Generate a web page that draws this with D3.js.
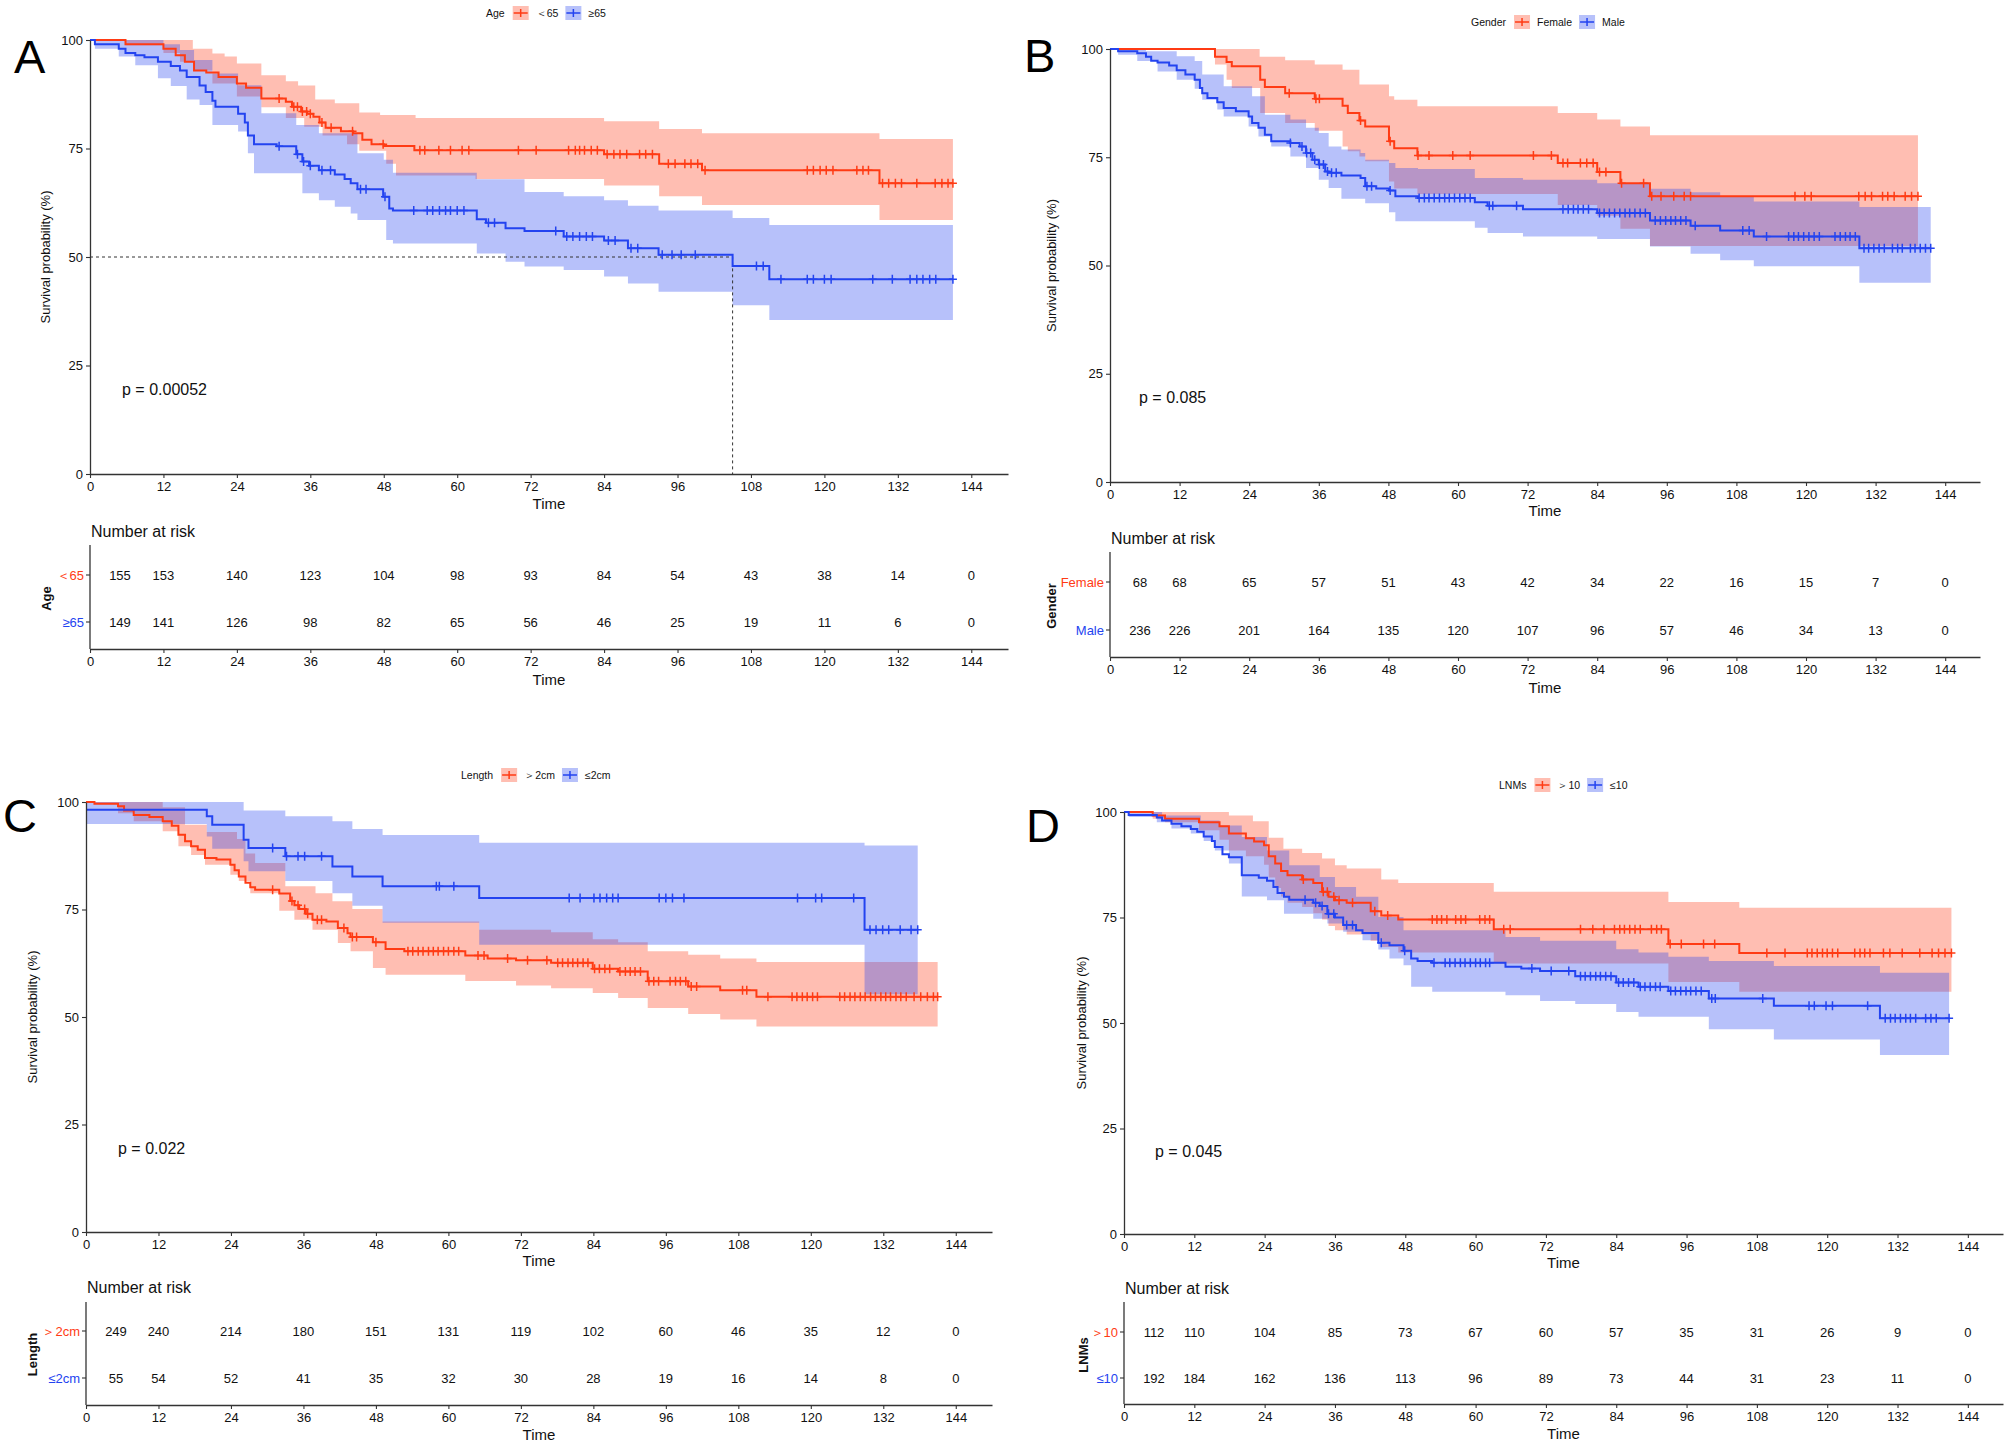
<!DOCTYPE html>
<html><head><meta charset="utf-8">
<script src="https://cdn.jsdelivr.net/npm/d3@7"></script>
<style>
html,body{margin:0;padding:0;background:#fff;}
svg{display:block;font-family:"Liberation Sans",Arial,Helvetica,sans-serif;}
</style></head><body>
<svg id="chart" width="2007" height="1443"></svg>
<script>
// ---------- shared ----------
const timeTicks = [0,12,24,36,48,60,72,84,96,108,120,132,144];
const yTicks = [0,25,50,75,100];
const groupColors = ["#FF3B14","#2343F0"];

// ---------- Panel A : Age ----------
const ageGroups = ["＜65","≥65"];
const ageLowSurv = [[0,100],[5.8,99],[12,98],[14,96.5],[15.5,95],[17,93],[19,92.5],[21,91.5],[24,90],[25.5,89],[28,86.5],[32,85.8],[33,84.6],[34.5,83.5],[35.5,83],[36.5,82.3],[37.5,81],[38.5,79.8],[41,79],[43,78.5],[44.5,77],[46,76],[48,75.6],[53,74.6],[84,73.7],[93,71.5],[100,70],[129,67]];
const ageLowUpper = [[0,100],[14,100],[16.8,98],[20,96.9],[22,96.2],[24,94.6],[28,91.9],[32,90.5],[34,89.5],[36.8,86.3],[40,85.4],[44,83.3],[47.4,82.7],[53.2,82],[84,81.3],[93,79.5],[100,78.5],[129,77.2]];
const ageLowLower = [[0,100],[5.8,98.8],[12,97],[14.7,95],[17,93],[20,90],[24,87],[28,84.5],[32,82],[35,80],[38,78],[42,76],[44,74.5],[48.4,71.5],[50,68.8],[63,68],[84,66.5],[93,64],[100,62],[129,58.5]];
const ageLowCensor = [30.9,33.3,33.9,34.7,35.4,36,37.9,39.4,42.9,47.9,53.9,54.7,57,58.9,60.8,61.9,70,72.9,78.2,79.3,80,80.8,81.9,82.9,84.5,85.6,86.6,87.7,89.8,90.8,91.9,94.5,95.6,97.2,98.2,99.3,100.5,117.2,118.2,119.3,120.3,121.4,125.3,126.3,127.2,129.5,130.5,131.6,132.6,135.1,138.1,139.2,140.2,141];
const ageHighSurv = [[0,100],[0.8,99],[4.7,98],[5.8,97],[7.4,96.5],[8.9,96],[11.1,95],[13.2,94],[14.7,93],[15.8,91.5],[17.9,89.5],[18.9,88],[20,86],[20.5,84.6],[24.2,83],[25.3,81],[25.8,78],[26.8,76],[30.5,75.5],[33.7,73.7],[34.7,72],[35.8,71],[37.4,70],[40,69],[41.6,68],[42.6,67],[43.7,65.6],[47.9,63.9],[48.9,61.2],[49.5,60.7],[63.2,58.7],[64.7,57.9],[67.9,56.6],[71,56],[77.4,54.7],[84,53.8],[87.9,52],[92.9,50.5],[105,47.9],[111,44.9]];
const ageHighUpper = [[0,100],[5.8,100],[12,99],[14.7,97.7],[17,95.4],[20,92.3],[24.2,89.6],[28,83.1],[33.7,80.4],[37.4,78.5],[43.7,73.9],[48,72.4],[49.5,69.4],[63.2,67.9],[71,65],[77.4,64],[84,63.1],[87.9,61.8],[92.9,60.7],[105,59],[111,57.4]];
const ageHighLower = [[0,100],[0.8,98],[4.7,96.2],[7.4,94.2],[11.1,91.2],[13.2,89.4],[15.8,86.3],[17.9,85],[20,80.4],[24.2,78.9],[25.8,73.9],[26.8,69.3],[34.7,64.7],[37.4,63.1],[40,61.6],[42.6,60],[43.7,58.5],[48.4,53.9],[49.5,53.1],[63.2,50.8],[67.9,48.9],[71,47.8],[77.4,47],[84,45.5],[87.9,43.9],[92.9,42],[105,38.9],[111,35.5]];
const ageHighCensor = [30.9,33.9,34.9,36,37.9,39.3,44.2,45.1,48.2,52.9,55.1,56,57.1,58.1,58.9,60,61.1,65.1,66.1,76.1,77.9,78.9,80,81.1,82.1,84.7,85.8,88.4,89.5,93.5,95.1,96.6,98.9,108.9,110,112.9,117.2,118.2,120,121.1,127.9,131.1,134,135.1,136.1,137.2,138.2,141];
const ageRisk = [[155,153,140,123,104,98,93,84,54,43,38,14,0],[149,141,126,98,82,65,56,46,25,19,11,6,0]];
const ageMedian = 105;

// ---------- Panel B : Gender ----------
const genderGroups = ["Female","Male"];
const genderFSurv = [[0,100],[18.1,98.2],[20.1,97],[21,96],[25.9,92.9],[26.7,91.2],[30.2,89.8],[35.3,88.5],[40.1,86.9],[41,85.2],[43,83.5],[44,82.1],[48.1,78.7],[49,77.1],[53,75.4],[77.2,73.7],[84,71.6],[88,69],[93.1,66]];
const genderFUpper = [[0,100],[25.8,98.2],[30.2,97.4],[35.3,96.4],[40.1,95.2],[43,91.8],[48.1,89.1],[49,88.3],[53,86.8],[77.2,85.2],[84,83.7],[88,82.1],[93.1,80.1]];
const genderFLower = [[0,100],[18.1,96.4],[20.1,92.9],[21,91],[25.9,85.2],[30.2,82.9],[35.3,81.1],[40.1,77.5],[41,76.4],[43,75.2],[44,74.1],[48.1,69.4],[49,67.8],[53,66.5],[77.2,64],[84,61.5],[88,58.5],[93.1,54.5]];
const genderFCensor = [30.9,35.5,36.1,43.2,48.3,53.1,55,59.1,62.1,73,76.1,78.1,78.9,81.1,82.2,83.3,84.4,85.5,88.2,92,93.4,95,97.2,99,100.1,118.1,119.8,120.9,129.1,130.2,131.3,133.2,134.1,135.2,137.1,138.2,139.3];
const genderMSurv = [[0,100],[1.4,99.5],[4.7,99],[6.2,98.2],[7.1,97.3],[8.2,96.9],[10.2,96.2],[11.5,95.1],[13,94.1],[14.6,92.9],[15.5,91],[15.9,89.8],[16.8,88.7],[18.5,87.7],[19.6,86.4],[21.7,85.6],[23.9,84.4],[24.5,82.9],[25.6,81.8],[26.7,80.2],[27.8,78.7],[31.1,78.3],[32.7,77.5],[33.8,76],[34.9,74.4],[36,73.3],[37.1,71.7],[37.7,71.4],[39.9,70.8],[43.2,70.2],[44,68.3],[45.9,67.8],[48.1,67.3],[49.2,66],[53.1,65.6],[62.9,64.6],[65.1,63.8],[71.2,63],[84,62.1],[93.1,60.4],[100.1,59.2],[105.2,58.1],[111,56.7],[129.2,54]];
const genderMUpper = [[0,100],[6.2,99.5],[11.5,98.3],[14.6,97.2],[15.9,94.1],[19.6,91.4],[24.5,89.1],[26.7,84.8],[31.1,83.7],[33.8,81.8],[36,80.6],[37.7,77.5],[39.9,76.8],[43.2,76],[44,74.4],[48.1,73.7],[49.2,72.5],[53.1,72.3],[62.9,70.2],[71.2,69.8],[84,69],[93.1,67.7],[100.1,66.9],[105.2,65.8],[111,64.8],[129.2,63.5]];
const genderMLower = [[0,100],[1.4,98.7],[4.7,97.2],[8.2,94.8],[11.5,92.9],[14.6,90.8],[15.9,88.3],[18.5,86],[19.6,84.4],[23.9,82.1],[25.6,79.8],[27.8,77.5],[31.1,75.2],[33.8,72.5],[36,69.8],[37.7,67.9],[39.9,65.4],[44,64.4],[48.1,62.3],[49.2,60.2],[62.9,58.7],[65.1,57.5],[71.2,56.7],[84,56.1],[93.1,54.4],[100.1,52.7],[105.2,51.2],[111,49.8],[129.2,46]];
const genderMCensor = [31.1,33.1,33.9,34.6,35.3,36.1,36.8,37.5,38.2,39,44.3,45.1,48.3,53.3,54.2,55,55.9,56.8,57.7,58.5,59.4,60.3,61.2,62.1,65.4,66,70.1,78.1,79,79.9,80.7,81.6,82.5,84.4,85.2,86.1,87,87.9,88.8,89.6,90.5,91.4,92.3,94,94.9,95.8,96.7,97.5,98.4,99.3,100.9,109.1,110.2,113.2,117,117.9,118.7,119.6,120.5,121.4,122.3,125,125.9,126.8,127.6,128.5,130,130.8,131.7,132.6,133.5,134.9,135.8,136.6,138,138.8,139.7,140.6,141.5];
const genderRisk = [[68,68,65,57,51,43,42,34,22,16,15,7,0],[236,226,201,164,135,120,107,96,57,46,34,13,0]];

// ---------- Panel C : Length ----------
const lengthGroups = ["＞2cm","≤2cm"];
const lengthBigSurv = [[0,100],[1.4,99.6],[5.3,99],[6.3,98],[7.9,97],[10.5,96.5],[12.7,95.5],[14.2,94.5],[15.3,92.4],[16.4,90.9],[17.4,89.7],[18.5,88.9],[19.7,87],[21.6,86.6],[23.9,85.4],[24.6,84.1],[25.3,82.7],[26.4,81.2],[27.2,80.2],[28,79.6],[32,78.7],[33.8,77],[34.5,76],[35.3,75.1],[36.4,74],[37.5,72.6],[39.8,72.2],[41.7,70.7],[43.3,69.5],[43.8,68.6],[47.5,67.4],[49.6,65.8],[52.7,65.3],[62.8,64.3],[66.5,63.6],[71.2,63.2],[77,62.6],[83.9,61.2],[88.1,60.6],[93,58.3],[99.7,57.1],[105,56.2],[111,54.7]];
const lengthBigUpper = [[0,100],[12.7,98.8],[16.4,94.7],[20,93],[25,91.4],[26.4,88],[28,85.8],[33,80.4],[38,78.8],[40.8,76.9],[44.1,75.1],[49.1,72.2],[65.1,70.3],[77,69.7],[83.9,68.1],[88.1,67.4],[93,65.3],[99.7,64.5],[105,63.6],[111,62.8]];
const lengthBigLower = [[0,100],[1.4,99.5],[5.3,97.4],[7.9,95.5],[12.7,93.2],[15.3,89.7],[17.4,87.7],[19.7,85.4],[23.9,83.1],[25.3,81.6],[27.2,78.8],[32,74.7],[34.5,72.6],[37.5,70.3],[41.7,67.2],[43.8,65.3],[47.5,61.4],[49.6,59.8],[62.8,58.4],[71.2,57.3],[77,56.7],[83.9,55.6],[88.1,54.4],[93,52.1],[99.7,50.7],[105,49.4],[111,47.8]];
const lengthBigCensor = [30.9,34.1,35.1,36.2,36.7,38.3,39,42.7,44.1,44.8,48,53.3,54.1,55,55.8,56.7,57.5,58.3,59.2,60,60.9,61.7,64.9,65.9,69.8,73.1,76.3,78.1,78.9,79.8,80.6,81.4,82.3,83.1,84.2,85,85.9,86.7,88.4,89.3,90.1,90.9,91.8,93.2,94,94.8,96.7,97.6,98.4,99.3,100.2,101.1,108.7,109.4,112.9,116.9,117.7,118.6,119.4,120.3,121.1,124.8,125.6,126.5,127.3,128.2,129,129.9,130.7,131.6,132.4,133.2,134.1,134.9,135.8,137.1,138.2,139.3,140.3,141];
const lengthSmallSurv = [[0,98.2],[20,96.7],[20.9,94.7],[26.1,91.2],[26.9,89.3],[33,87.4],[40.8,85],[44.1,82.7],[49.1,80.4],[65.1,77.7],[128.9,70.3]];
const lengthSmallUpper = [[0,100],[26.1,98],[33,96.7],[40.8,95.5],[44.1,93.7],[49.1,92.3],[65.1,90.5],[128.9,89.9]];
const lengthSmallLower = [[0,94.9],[20,92],[20.9,89.1],[26.1,86.2],[26.9,83.9],[33,81.6],[40.8,78.8],[44.1,75.9],[49.1,71.9],[65.1,66.8],[128.9,55.3]];
const lengthSmallCensor = [30.9,33.2,35.1,36.2,39,58,58.5,60.9,80,81.8,84.1,85.1,86.2,87.2,88.1,94.9,96,97.1,99,117.8,120.8,121.8,127.1,129.8,130.8,131.9,132.9,134.8,136.6,137.7];
const lengthRisk = [[249,240,214,180,151,131,119,102,60,46,35,12,0],[55,54,52,41,35,32,30,28,19,16,14,8,0]];

// ---------- Panel D : LNMs ----------
const lnmGroups = ["＞10","≤10"];
const lnmHighSurv = [[0,100],[4.9,99.2],[7,98.4],[12.8,97.6],[16.3,96.6],[17.9,94.9],[20.8,93.8],[22.2,93],[23.9,92.1],[24.7,89.5],[25.8,87.8],[26.8,86],[27.9,85],[30.4,84],[32.3,83.2],[33.8,81.1],[34.9,79.9],[36,79.1],[38,78.5],[42.1,76.5],[43.9,75.5],[46.8,74.5],[63.1,72.2],[92.9,68.7],[105,66.6]];
const lnmHighUpper = [[0,100],[17.9,99.2],[22,97.8],[24.7,93.9],[27.2,91.3],[30.4,90.3],[33.8,89],[36,87.4],[38,86.6],[43.9,84],[46.8,83.2],[63.1,81.1],[92.9,78.7],[105,77.3]];
const lnmHighLower = [[0,100],[4.9,98.4],[7,97.6],[12.8,95.7],[16.3,93.4],[17.9,90.9],[20.8,89.5],[23.9,87.5],[24.7,84.5],[25.8,82],[26.8,80],[27.9,78.5],[30.4,77.5],[32.3,76],[33.8,74.5],[34.9,73],[36,72],[38,71],[42.1,69.5],[43.9,68],[46.8,66.7],[63.1,64.1],[92.9,59.7],[105,57.4]];
const lnmHighCensor = [30.6,34,34.7,35.8,36.7,39,42.8,45,52.6,53.4,54.2,55.1,56.6,57.5,58.3,60.7,61.6,62.4,64.8,65.9,77.9,80,81.9,83.7,84.6,85.4,86.3,87.2,88.1,90,90.9,91.7,93.2,95.1,98.9,100.8,109.7,112.8,116.6,117.4,118.3,119.2,120,120.9,121.8,124.7,125.6,126.4,127.3,129.6,130.7,132.8,135.8,137.9,139,140.1,141.2];
const lnmLowSurv = [[0,100],[0.8,99.3],[5.6,98.7],[6.5,98],[8.1,97.2],[9.8,96.6],[11.4,96],[12.5,95.3],[13.6,94.2],[15,93.1],[15.5,91.7],[16.8,90],[17.9,89.3],[20.1,85],[23,84.4],[24.4,83.7],[25.5,82.2],[26.2,80.8],[27.3,79.9],[28.2,79.2],[32.3,78.5],[33.4,77.7],[34.7,75.9],[36,75],[37.4,73.2],[39.6,72],[40.7,71.3],[43.4,69],[45.3,68.4],[47.7,67.1],[49,65.3],[50.1,64.7],[52.6,64.3],[65.1,63.3],[67.8,62.9],[71,62.3],[77,61.1],[84,59.6],[87.8,58.6],[92.9,57.6],[99.8,55.8],[110.9,54.1],[129,51.1]];
const lnmLowUpper = [[0,100],[6.5,99.2],[13.1,98],[16.3,96.8],[20.1,94.1],[24.4,90.9],[28.2,87.4],[33.4,84.6],[36,82.2],[39.6,79.9],[43.4,75.1],[47.7,72],[65.1,70.4],[71,69.5],[84,67.5],[87.8,66.7],[92.9,65.7],[99.8,64.7],[110.9,63.5],[129,61.9]];
const lnmLowLower = [[0,100],[0.8,98.8],[5.6,97.6],[8.1,96.1],[11.4,94.9],[13.6,93.1],[15.5,90.9],[17.9,87.8],[20.1,80],[24.4,79.1],[27.3,75.9],[32.3,74.7],[34.7,73.6],[37.4,71.6],[40.7,69.6],[43.4,67.4],[45.3,65.3],[47.7,63.7],[49,58.6],[52.6,57.4],[65.1,56.6],[71,55.2],[77,54.5],[84,52.6],[87.8,51.5],[99.8,48.5],[110.9,46.1],[129,42.4]];
const lnmLowCensor = [30.9,32.7,33.8,34.9,35.8,38,39,43.9,47.9,52.9,54.8,55.6,56.5,57.4,58.2,59.1,60,60.8,61.7,62.4,69.6,72.9,75.9,77.9,78.7,79.6,80.5,81.3,82.2,83.1,84.4,85.2,86.1,87,88.1,88.9,89.8,90.7,91.5,93.3,94.1,95,95.9,96.7,97.6,98.5,100.3,100.9,109,116.9,117.8,119.8,120.9,126.9,129.9,130.8,131.6,132.5,133.4,134.2,135.1,136.8,137.7,138.6,140.8];
const lnmRisk = [[112,110,104,85,73,67,60,57,35,31,26,9,0],[192,184,162,136,113,96,89,73,44,31,23,11,0]];

// ---------- panel definitions ----------
const panels = [
  {letter:"A", title:"Age", groups:ageGroups, p:"p = 0.00052", median:ageMedian, risk:ageRisk,
   curves:[{surv:ageLowSurv,upper:ageLowUpper,lower:ageLowLower,censor:ageLowCensor},
           {surv:ageHighSurv,upper:ageHighUpper,lower:ageHighLower,censor:ageHighCensor}],
   L:{x0:90,x1:1008,y0:474,y1:40,legX:486,legY:13,letX:14,letY:73,ylabX:45,pX:122,pY:389,timeY:503,
      titleY:531,tTop:545,rows:[575,622],tAxis:649,tTime:679,tTitleX:46}},
  {letter:"B", title:"Gender", groups:genderGroups, p:"p = 0.085", median:null, risk:genderRisk,
   curves:[{surv:genderFSurv,upper:genderFUpper,lower:genderFLower,censor:genderFCensor},
           {surv:genderMSurv,upper:genderMUpper,lower:genderMLower,censor:genderMCensor}],
   L:{x0:1110,x1:1980,y0:482,y1:49,legX:1471,legY:22,letX:1024,letY:72,ylabX:1051,pX:1139,pY:397,timeY:510,
      titleY:538,tTop:552,rows:[582,630],tAxis:657,tTime:687,tTitleX:1051}},
  {letter:"C", title:"Length", groups:lengthGroups, p:"p = 0.022", median:null, risk:lengthRisk,
   curves:[{surv:lengthBigSurv,upper:lengthBigUpper,lower:lengthBigLower,censor:lengthBigCensor},
           {surv:lengthSmallSurv,upper:lengthSmallUpper,lower:lengthSmallLower,censor:lengthSmallCensor}],
   L:{x0:86,x1:992,y0:1232,y1:802,legX:461,legY:775,letX:3,letY:832,ylabX:32,pX:118,pY:1148,timeY:1260,
      titleY:1287,tTop:1302,rows:[1331,1378],tAxis:1405,tTime:1434,tTitleX:32}},
  {letter:"D", title:"LNMs", groups:lnmGroups, p:"p = 0.045", median:null, risk:lnmRisk,
   curves:[{surv:lnmHighSurv,upper:lnmHighUpper,lower:lnmHighLower,censor:lnmHighCensor},
           {surv:lnmLowSurv,upper:lnmLowUpper,lower:lnmLowLower,censor:lnmLowCensor}],
   L:{x0:1124,x1:2003,y0:1234,y1:812,legX:1499,legY:785,letX:1026,letY:842,ylabX:1081,pX:1155,pY:1151,timeY:1262,
      titleY:1288,tTop:1302,rows:[1332,1378],tAxis:1404,tTime:1433,tTitleX:1083}}
];

function stepAt(arr, t){
  let v = arr[0][1];
  for (const p of arr){ if (p[0] <= t) v = p[1]; else break; }
  return v;
}
function styleAxis(sel){
  sel.attr("font-family",null).attr("font-size",null);
  sel.select(".domain").attr("stroke","#333").attr("stroke-width",1.3);
  sel.selectAll(".tick line").attr("stroke","#333").attr("stroke-width",1.1);
  sel.selectAll(".tick text").attr("fill","#111").style("font-size","13px");
}

const svg = d3.select("#chart");

panels.forEach(P => {
  const L = P.L;
  const g = svg.append("g");
  const x = d3.scaleLinear().domain([0,150]).range([L.x0, L.x1]);
  const y = d3.scaleLinear().domain([0,100]).range([L.y0, L.y1]);

  // confidence bands
  P.curves.forEach((c,i) => {
    const end = d3.max(c.censor);
    const ts = Array.from(new Set([...c.upper.map(d=>d[0]), ...c.lower.map(d=>d[0]), end]))
      .filter(t => t <= end).sort((a,b)=>a-b);
    const data = ts.map(t => ({t, lo:stepAt(c.lower,t), hi:stepAt(c.upper,t)}));
    g.append("path").datum(data)
      .attr("d", d3.area().curve(d3.curveStepAfter).x(d=>x(d.t)).y0(d=>y(d.lo)).y1(d=>y(d.hi)))
      .attr("fill", groupColors[i]).attr("fill-opacity", 0.33);
  });

  // median line
  if (P.median != null){
    g.append("path")
      .attr("d", `M${x(0)},${y(50)}H${x(P.median)}V${y(0)}`)
      .attr("fill","none").attr("stroke","#333").attr("stroke-width",1).attr("stroke-dasharray","3,3");
  }

  // curves and censor marks
  P.curves.forEach((c,i) => {
    const end = d3.max(c.censor);
    const pts = c.surv.concat([[end, c.surv[c.surv.length-1][1]]]);
    g.append("path").datum(pts)
      .attr("d", d3.line().curve(d3.curveStepAfter).x(d=>x(d[0])).y(d=>y(d[1])))
      .attr("fill","none").attr("stroke",groupColors[i]).attr("stroke-width",2);
    g.append("g").selectAll("path").data(c.censor).join("path")
      .attr("d", t => { const cx = x(t), cy = y(stepAt(c.surv,t)); return `M${cx-4},${cy}h8M${cx},${cy-4.5}v9`; })
      .attr("stroke",groupColors[i]).attr("stroke-width",1.5).attr("fill","none");
  });

  // axes
  const xa = g.append("g").attr("transform",`translate(0,${L.y0})`)
    .call(d3.axisBottom(x).tickValues(timeTicks).tickSize(4).tickSizeOuter(0).tickPadding(4));
  styleAxis(xa);
  const ya = g.append("g").attr("transform",`translate(${L.x0},0)`)
    .call(d3.axisLeft(y).tickValues(yTicks).tickSize(4).tickSizeOuter(0).tickPadding(3));
  styleAxis(ya);

  g.append("text").attr("x",(L.x0+L.x1)/2).attr("y",L.timeY).attr("text-anchor","middle")
    .attr("dominant-baseline","central").style("font-size","15px").attr("fill","#111").text("Time");
  g.append("text").attr("transform",`translate(${L.ylabX},${(L.y0+L.y1)/2}) rotate(-90)`)
    .attr("text-anchor","middle").attr("dominant-baseline","central").style("font-size","13px").attr("fill","#111")
    .text("Survival probability (%)");
  g.append("text").attr("x",L.pX).attr("y",L.pY).attr("dominant-baseline","central")
    .style("font-size","16px").attr("fill","#111").text(P.p);
  g.append("text").attr("x",L.letX).attr("y",L.letY).style("font-size","47px").attr("fill","#000").text(P.letter);

  // legend
  const lg = g.append("g");
  let cx = L.legX;
  const tt = lg.append("text").attr("x",cx).attr("y",L.legY).attr("dominant-baseline","central")
    .style("font-size","10.5px").attr("fill","#111").text(P.title);
  cx += tt.node().getComputedTextLength() + 8;
  P.groups.forEach((grp,i) => {
    lg.append("rect").attr("x",cx).attr("y",L.legY-7).attr("width",16).attr("height",14)
      .attr("fill",groupColors[i]).attr("fill-opacity",0.33);
    lg.append("path").attr("d",`M${cx+1},${L.legY}h14M${cx+8},${L.legY-4}v8`)
      .attr("stroke",groupColors[i]).attr("stroke-width",1.5);
    cx += 16 + 7;
    const lt = lg.append("text").attr("x",cx).attr("y",L.legY).attr("dominant-baseline","central")
      .style("font-size","10.5px").attr("fill","#111").text(grp);
    cx += lt.node().getComputedTextLength() + 7;
  });

  // risk table
  g.append("text").attr("x",L.x0+1).attr("y",L.titleY).attr("dominant-baseline","central")
    .style("font-size","16px").attr("fill","#111").text("Number at risk");
  g.append("line").attr("x1",L.x0).attr("x2",L.x0).attr("y1",L.tTop).attr("y2",L.tAxis)
    .attr("stroke","#333").attr("stroke-width",1.3);
  P.groups.forEach((grp,i) => {
    const ry = L.rows[i];
    g.append("line").attr("x1",L.x0-4).attr("x2",L.x0).attr("y1",ry).attr("y2",ry).attr("stroke","#333").attr("stroke-width",1.1);
    g.append("text").attr("x",L.x0-6).attr("y",ry).attr("text-anchor","end").attr("dominant-baseline","central")
      .style("font-size","13px").attr("fill",groupColors[i]).text(grp);
    g.append("g").selectAll("text").data(P.risk[i]).join("text")
      .attr("x",(d,j) => x(timeTicks[j]) + (j === 0 ? 30 : 0)).attr("y",ry)
      .attr("text-anchor","middle").attr("dominant-baseline","central")
      .style("font-size","13px").attr("fill","#111").text(d => d);
  });
  const ta = g.append("g").attr("transform",`translate(0,${L.tAxis})`)
    .call(d3.axisBottom(x).tickValues(timeTicks).tickSize(4).tickSizeOuter(0).tickPadding(4));
  styleAxis(ta);
  g.append("text").attr("x",(L.x0+L.x1)/2).attr("y",L.tTime).attr("text-anchor","middle")
    .attr("dominant-baseline","central").style("font-size","15px").attr("fill","#111").text("Time");
  g.append("text").attr("transform",`translate(${L.tTitleX},${(L.rows[0]+L.rows[1])/2}) rotate(-90)`)
    .attr("text-anchor","middle").attr("dominant-baseline","central")
    .style("font-size","13px").style("font-weight","bold").attr("fill","#111").text(P.title);
});
</script>
</body></html>
